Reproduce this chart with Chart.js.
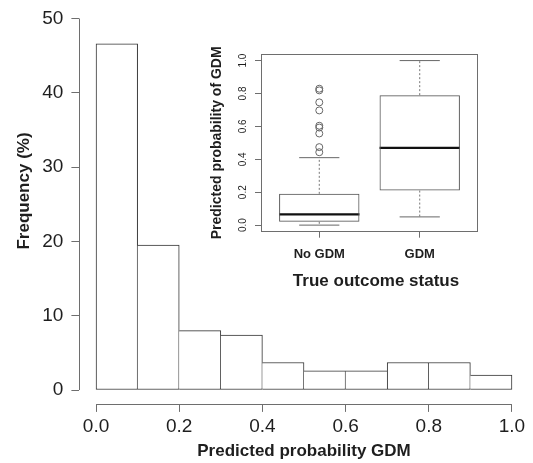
<!DOCTYPE html>
<html><head><meta charset="utf-8">
<script src="https://cdn.jsdelivr.net/npm/chart.js@4/dist/chart.umd.min.js"></script>
<style>
html,body{margin:0;padding:0;background:#fff;}
#wrap{position:relative;width:533px;height:463px;overflow:hidden;}
#main{position:absolute;left:0;top:0;}
#inset{position:absolute;left:195px;top:40px;}
</style></head><body>
<div id="wrap"><canvas id="main" width="533" height="463"></canvas><canvas id="inset" width="295" height="260"></canvas></div>
<script>
// ---- main histogram data ----
const binCenters = [0.05, 0.15, 0.25, 0.35, 0.45, 0.55, 0.65, 0.75, 0.85, 0.95];
const frequency  = [46.6, 19.5, 8.0, 7.4, 3.7, 2.6, 2.6, 3.7, 3.7, 2.0];
const xTicks = [0, 0.2, 0.4, 0.6, 0.8, 1.0];
const yTicks = [0, 10, 20, 30, 40, 50];
const xTitle = 'Predicted probability GDM';
const yTitle = 'Frequency (%)';

// ---- inset boxplot data ----
const groups      = ['No GDM', 'GDM'];
const groupPos    = [1, 2];
const whiskerLow  = [0.0, 0.05];
const q1          = [0.02, 0.21];
const median      = [0.065, 0.47];
const q3          = [0.19, 0.79];
const whiskerHigh = [0.41, 1.0];
const outliersNoGDM = [0.829, 0.819, 0.746, 0.697, 0.604, 0.593, 0.557, 0.474, 0.443];
const insetYTicks = [0, 0.2, 0.4, 0.6, 0.8, 1.0];
const insetXTitle = 'True outcome status';
const insetYTitle = 'Predicted probability of GDM';

const FONT = "'Liberation Sans', Arial, Helvetica, sans-serif";
const TEXT = '#1e1e1e';
const AXIS = '#6e6e6e';

function noPad(scale) { scale.paddingLeft = 0; scale.paddingRight = 0; scale.paddingTop = 0; scale.paddingBottom = 0; }

// shared edge between neighbouring bars is drawn once, by the taller bar
function barBorder(c) {
  const i = c.dataIndex, n = frequency.length, h = frequency[i];
  return {
    top: 1, bottom: 1,
    left: (i === 0 || frequency[i - 1] < h) ? 1 : 0,
    right: (i === n - 1 || frequency[i + 1] <= h) ? 1 : 0
  };
}

const mainPlugin = {
  id: 'mainAxes',
  afterDraw(chart) {
    const ctx = chart.ctx, xs = chart.scales.x, ys = chart.scales.y, ca = chart.chartArea;
    ctx.save();
    ctx.strokeStyle = AXIS; ctx.lineWidth = 1;
    ctx.beginPath();
    const lx = Math.round(ca.left) + 0.5;
    ctx.moveTo(lx, ys.getPixelForValue(yTicks[0]));
    ctx.lineTo(lx, ys.getPixelForValue(yTicks[yTicks.length - 1]));
    const by = Math.round(ca.bottom) - 0.5;
    ctx.moveTo(xs.getPixelForValue(xTicks[0]), by);
    ctx.lineTo(xs.getPixelForValue(xTicks[xTicks.length - 1]), by);
    ctx.stroke();
    ctx.fillStyle = TEXT;
    ctx.font = 'bold 17px ' + FONT;
    ctx.textAlign = 'center'; ctx.textBaseline = 'middle';
    ctx.translate(24.5, 191);
    ctx.rotate(-Math.PI / 2);
    ctx.fillText(yTitle, 0, 0);
    ctx.restore();
  }
};

new Chart(document.getElementById('main'), {
  type: 'bar',
  data: {
    datasets: [{
      data: binCenters.map((x, i) => ({ x: x, y: frequency[i] })),
      backgroundColor: '#ffffff',
      borderColor: '#333333',
      borderWidth: barBorder,
      borderSkipped: false,
      barPercentage: 1,
      categoryPercentage: 1
    }]
  },
  options: {
    responsive: false, animation: false, events: [], devicePixelRatio: 1,
    layout: { padding: { left: 0, right: 4.4, top: 3.6, bottom: 0 } },
    plugins: { legend: { display: false }, tooltip: { enabled: false } },
    scales: {
      x: {
        type: 'linear', min: -0.04, max: 1.04, offset: false,
        afterBuildTicks: s => { s.ticks = xTicks.map(v => ({ value: v })); },
        afterFit: s => { s.height = 58.1; noPad(s); },
        grid: { display: true, drawOnChartArea: false, drawTicks: true, tickLength: 7, color: AXIS, tickColor: AXIS, offset: false },
        border: { display: false },
        ticks: { padding: 3, autoSkip: false, maxRotation: 0, color: TEXT, font: { family: FONT, size: 19 }, callback: v => Number(v).toFixed(1) },
        title: { display: true, text: xTitle, color: TEXT, font: { family: FONT, size: 17, weight: 'bold' }, padding: { top: 0, bottom: 1.8 } }
      },
      y: {
        type: 'linear', min: -2, max: 52,
        afterBuildTicks: s => { s.ticks = yTicks.map(v => ({ value: v })); },
        afterFit: s => { s.width = 79.4; noPad(s); },
        grid: { display: true, drawOnChartArea: false, drawTicks: true, tickLength: 8, color: AXIS, tickColor: AXIS },
        border: { display: false },
        ticks: { padding: 8, color: TEXT, font: { family: FONT, size: 19 }, callback: v => String(v) },
        title: { display: false }
      }
    }
  },
  plugins: [mainPlugin]
});

// ---- inset ----
const capHalf = 0.2, boxHalf = 0.4;
const medianPts = [], whiskerPts = [], capPts = [];
groupPos.forEach((g, i) => {
  medianPts.push({ x: g - boxHalf, y: median[i] }, { x: g + boxHalf, y: median[i] }, { x: g, y: null });
  whiskerPts.push({ x: g, y: q3[i] }, { x: g, y: whiskerHigh[i] }, { x: g, y: null },
                  { x: g, y: q1[i] }, { x: g, y: whiskerLow[i] }, { x: g, y: null });
  capPts.push({ x: g - capHalf, y: whiskerHigh[i] }, { x: g + capHalf, y: whiskerHigh[i] }, { x: g, y: null },
              { x: g - capHalf, y: whiskerLow[i] }, { x: g + capHalf, y: whiskerLow[i] }, { x: g, y: null });
});

const insetPlugin = {
  id: 'insetFrame',
  afterDraw(chart) {
    const ctx = chart.ctx, ys = chart.scales.y, ca = chart.chartArea;
    ctx.save();
    ctx.strokeStyle = AXIS; ctx.lineWidth = 1;
    ctx.strokeRect(Math.round(ca.left) + 0.5, Math.round(ca.top) + 0.5, Math.round(ca.right - ca.left) - 1, Math.round(ca.bottom - ca.top) - 1);
    ctx.fillStyle = TEXT;
    ctx.font = '10px ' + FONT;
    ctx.textAlign = 'center'; ctx.textBaseline = 'middle';
    insetYTicks.forEach(v => {
      ctx.save();
      ctx.translate(48, ys.getPixelForValue(v));
      ctx.rotate(-Math.PI / 2);
      ctx.fillText(v.toFixed(1), 0, 0);
      ctx.restore();
    });
    ctx.font = 'bold 17px ' + FONT;
    ctx.fillText(insetXTitle, 181, 241);
    ctx.restore();
  }
};

new Chart(document.getElementById('inset'), {
  type: 'scatter',
  data: {
    datasets: [
      {
        type: 'bar',
        data: groupPos.map((g, i) => ({ x: g, y: [q1[i], q3[i]] })),
        backgroundColor: 'rgba(0,0,0,0)', borderColor: '#555555', borderWidth: 1, borderSkipped: false,
        barPercentage: 0.8, categoryPercentage: 1
      },
      { type: 'line', data: whiskerPts, borderColor: '#777777', borderWidth: 1, borderDash: [2, 2], pointRadius: 0, spanGaps: false, fill: false },
      { type: 'line', data: capPts, borderColor: '#666666', borderWidth: 1, pointRadius: 0, spanGaps: false, fill: false },
      { type: 'line', data: medianPts, borderColor: '#111111', borderWidth: 2.2, pointRadius: 0, spanGaps: false, fill: false },
      { type: 'scatter', data: outliersNoGDM.map(v => ({ x: groupPos[0], y: v })), pointStyle: 'circle', pointRadius: 3.5,
        backgroundColor: 'rgba(0,0,0,0)', borderColor: '#666666', borderWidth: 1, showLine: false }
    ]
  },
  options: {
    responsive: false, animation: false, events: [], devicePixelRatio: 1,
    layout: { padding: { left: 0, right: 12, top: 14, bottom: 0 } },
    plugins: { legend: { display: false }, tooltip: { enabled: false } },
    scales: {
      x: {
        type: 'linear', min: 0.42, max: 2.58, offset: false,
        afterBuildTicks: s => { s.ticks = groupPos.map(v => ({ value: v })); },
        afterFit: s => { s.height = 68.3; noPad(s); },
        grid: { display: true, drawOnChartArea: false, drawTicks: true, tickLength: 6, color: AXIS, tickColor: AXIS, offset: false },
        border: { display: false },
        ticks: { padding: 9, autoSkip: false, maxRotation: 0, color: TEXT, font: { family: FONT, size: 13, weight: 'bold' },
                 callback: v => groups[groupPos.indexOf(v)] },
        title: { display: false }
      },
      y: {
        type: 'linear', min: -0.04, max: 1.04,
        afterBuildTicks: s => { s.ticks = insetYTicks.map(v => ({ value: v })); },
        afterFit: s => { s.width = 66; noPad(s); },
        grid: { display: true, drawOnChartArea: false, drawTicks: true, tickLength: 6, color: AXIS, tickColor: AXIS },
        border: { display: false },
        ticks: { display: false },
        title: { display: true, text: insetYTitle, color: TEXT, font: { family: FONT, size: 14, weight: 'bold' }, padding: { top: 13.6, bottom: 0 } }
      }
    }
  },
  plugins: [insetPlugin]
});
</script>
</body></html>
